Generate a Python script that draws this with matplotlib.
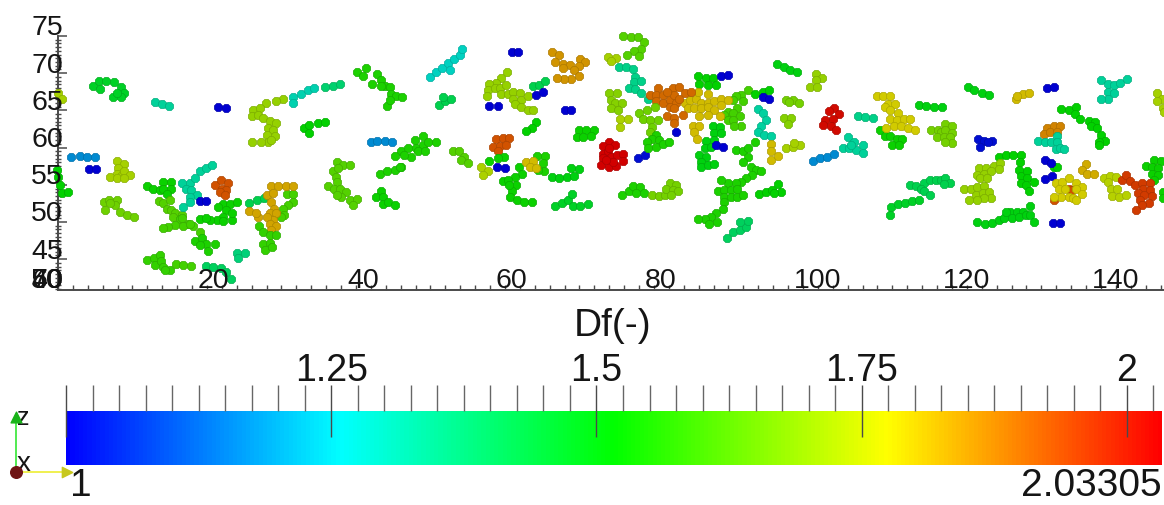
"""
Aggregate positions (x vs z) coloured by fractal dimension, with rainbow scalar bar.
"""

import numpy as np
import matplotlib
matplotlib.use("Agg")
import matplotlib.pyplot as plt
from matplotlib.cm import ScalarMappable
from matplotlib.colors import LinearSegmentedColormap, Normalize

plt.rcParams["font.family"] = ["Liberation Sans", "DejaVu Sans"]

# one entry per aggregate: fractal dimension and the sphere centres
cluster_df = []
cluster_x = []
cluster_y = []


def add(df, xs, ys):
    if len(xs) != len(ys):
        print("length mismatch", df, xs[:2], len(xs), len(ys))
    cluster_df.append(df)
    cluster_x.append(xs)
    cluster_y.append(ys)


add(1.72, [0.0, 0.5], [67.3, 66.5])
add(1.17, [1.8, 2.9, 3.9, 5.0], [58.8, 58.9, 58.8, 58.7])
add(1.0, [4.1, 5.1], [57.1, 57.1])
add(1.52, [0, 0.3, 0.5, 1.4, -0.1], [56.1, 55, 53.9, 54.1, 57.0])
add(1.47, [4.7, 5.5, 6.5, 7.5, 8.4, 8.9, 8.4, 7.4, 7.9, 5.6], [68.3, 68.9, 68.9, 68.8, 68.1, 67.3, 66.8, 66.8, 67.4, 67.9])
add(1.33, [13, 14, 14.9], [66.1, 65.9, 65.6])
add(1.0, [21.5, 22.6], [65.5, 65.3])
add(1.72, [7.9, 8.8, 8, 7.9, 8.5, 7, 8.8, 9.6, 7.9, 8.8], [58.2, 57.8, 57.2, 56.5, 56.2, 56, 56.8, 56.3, 55.9, 55.9])
add(1.65, [6.2, 6.8, 7.9, 7.6, 7, 6.3, 8.3, 9.2, 10.2], [52.7, 53, 53, 52.3, 52.5, 51.6, 51.3, 51, 50.7])
add(1.53, [11.9, 12.8, 13.7, 14.1, 15.2, 14.1, 15.2, 14.6], [54.9, 54.5, 54.3, 55.4, 55.4, 54.5, 54.4, 53.8])
add(1.62, [13.6, 14.1, 15.1, 14.6, 15.2, 15.7, 16.6, 15.5], [52.8, 52.5, 53, 51.8, 51.6, 51.2, 51, 50.7])
add(1.6, [16.4, 17.5, 16.8, 15.7, 14.8, 14.1, 16.6, 18.1, 19, 17.7], [50.4, 49.8, 49.4, 49.6, 49.3, 49.2, 50.5, 49.4, 48.6, 49.7])
add(1.55, [18.4, 19.3, 19.9, 19, 20.2, 21.1], [47.5, 47.8, 47.1, 46.9, 46.1, 47.1])
add(1.58, [11.9, 12.9, 13.7, 13, 13.8, 14.1, 15, 14.3], [44.9, 45.1, 45.6, 44.2, 44.7, 44, 43.6, 43.5])
add(1.6, [15.9, 16.8, 17.8], [44.4, 44.2, 44.1])
add(1.4, [19.9, 20.8, 21.9, 22.6, 23.2], [44.1, 44, 43.8, 43.3, 42.3])
add(1.37, [24, 25.1, 24.2], [45.9, 45.9, 45.1])
add(1.33, [16.6, 17.7, 17.2, 17.9, 18.6, 17.7, 17.7, 16.8, 19, 19.8, 20.7, 18.4],
    [55.3, 55.3, 54.4, 54.3, 53.6, 53.4, 52.7, 52, 56.8, 57.3, 57.6, 55.9])
add(1.0, [19, 19.8], [52.8, 52.8])
add(1.93, [21.1, 21.9, 22.8, 22, 22.6, 21.7, 22.4], [55, 55.6, 55.3, 54.5, 54.3, 54.1, 53.6])
add(1.53, [22.2, 23.1, 24, 22.6, 21.5, 22.2, 21.3, 20.4, 19, 19.9, 23.3, 22.1, 23.3],
    [52.4, 52.4, 52.7, 51.6, 52, 50.7, 50.3, 50.3, 50.4, 50.5, 50.3, 50.1, 51.2])
add(1.42, [25.7, 26.7, 27.7], [52.5, 53, 53.2])
add(1.6, [30.7, 31.6, 31.6, 30.9, 30.2, 30.4, 30], [53.8, 53.8, 52.7, 52.3, 51.8, 51, 50.7])
add(1.83, [28.6, 29.5, 30.6, 31.6, 28, 28.9, 28.6, 29, 28.4, 29.3, 28.9, 28, 26.9, 25.7, 26.6, 28.4, 29.3, 28.6],
    [54.8, 54.8, 54.8, 54.9, 53.6, 53.9, 52.7, 51.8, 51.2, 51.2, 50.3, 50.7, 50.7, 51.5, 51.2, 49.7, 49.4, 48.9])
add(1.58, [27, 27.5, 28.4, 29.3, 27.5, 28.5, 27.8, 28.7], [49.5, 48.7, 48.3, 48.3, 47.1, 47.2, 46.3, 46.6])
add(1.7, [30.2, 29.2, 27.9, 26.2, 27.1, 26, 26.9, 27.5, 28.4, 29.3, 28.2, 28.9, 28, 29.1, 28.2, 27.3, 26, 28.6],
    [66.5, 66.3, 66, 65, 65.3, 64.2, 64.4, 64, 63.6, 63.3, 62.6, 62.4, 61.7, 61.5, 60.8, 60.8, 60.7, 61])
add(1.3, [31.6, 31.5, 32.6, 33.6, 34.4], [66.8, 66, 67.2, 67.7, 68])
add(1.38, [35.9, 36.9, 37.9], [68.1, 68.3, 68.5])
add(1.52, [33, 33.7, 34.9, 35.9, 33.7], [62.7, 63, 63.3, 63.4, 62])
add(1.17, [42, 42.8, 43.9, 44.9], [60.7, 60.9, 60.9, 60.7])
add(1.62, [37.5, 38.3, 39.2, 36.9, 37.6, 37.3, 36.3, 37.4, 37.1, 37.8, 38.7, 38, 39.2, 40.1, 39.6, 37.4],
    [58, 57.7, 57.7, 56.8, 57.2, 56.1, 54.8, 55.4, 54.5, 54.4, 54, 53.4, 53, 53.1, 52.3, 53.6])
add(1.53, [43.3, 42.7, 43.6, 43.6, 44.3, 45.3], [54.2, 53.3, 53.3, 52.4, 52.7, 52.3])
add(1.55, [40.1, 41.4, 40.9, 42.8, 42.2, 43.4, 43.9, 44.5, 44.7, 45.4, 44.1, 44.5, 43.4, 46.2],
    [70.2, 70.7, 69.6, 69.9, 68.6, 69.1, 68.3, 68.2, 67.2, 67, 65.6, 66.4, 68.3, 66.8])
add(1.55, [46.1, 47, 47.9, 49, 48.1, 49, 49.7, 50.8, 47.4, 46.1, 46.5, 48.3, 49.2, 45.2, 43.2, 44.1, 45.2, 45.9],
    [59.5, 59.9, 61, 61.5, 59.9, 60.3, 60.8, 60.7, 58.8, 57.4, 59, 59.5, 59.5, 58.9, 56.5, 56.8, 57, 57.4])
add(1.28, [49.9, 50.8, 51.6, 52.3, 52.6, 53.1, 53.9, 54.2], [69.5, 70.2, 70.7, 71.4, 70.4, 71.9, 72.4, 73.3])
add(1.42, [51.1, 51.9, 52.8, 51.7], [65.7, 66.2, 66.5, 66.8])
add(1.0, [61, 61.8], [72.8, 72.9])
add(1.7, [60.3, 59.5, 58.8, 57.9, 57.7, 57.6, 58.6, 59.3, 60.2, 59.5, 60.4, 61.1, 62, 61.1, 62.2, 63.1, 61.3, 62.2, 63.1, 63.8],
    [70.1, 69.3, 68.7, 68.5, 67.7, 66.9, 68, 68, 68.4, 67.2, 67.2, 67.5, 67.4, 66.6, 66.4, 67, 65.9, 65.4, 65.1, 65])
add(1.0, [57.9, 59], [65.6, 65.6])
add(1.42, [63.7, 64.5, 65.4], [68.3, 68.4, 68.9])
add(1.0, [64.2, 65.1], [67.1, 67.5])
add(1.0, [68, 68.9], [65, 65])
add(1.85, [66.3, 67.2, 66.7, 67.8, 68.7, 70.1, 70.8, 70, 69.3, 67.8, 70, 68.9, 67.9, 67],
    [72.8, 72.5, 71.5, 71.2, 71.1, 71.9, 71.5, 71, 70.4, 70.7, 69.6, 69.2, 69.2, 69.3])
add(1.52, [64.1, 63.6, 62.8], [63.5, 62.6, 62.2])
add(1.93, [58.8, 59.7, 60.6, 58.4, 59.3, 60.2, 59.1], [61.2, 61.3, 61.3, 60.1, 60.2, 60.3, 59.5])
add(1.53, [59.9, 59.1, 57.9], [58.8, 58.6, 58.2])
add(1.0, [58.9, 60], [57.4, 57.3])
add(1.62, [53, 53.8, 54.5, 54.1, 55.1], [59.5, 59.5, 58.8, 58.3, 57.9])
add(1.73, [56.8, 57.7, 57.0], [57.4, 56.9, 56.3])
add(1.53, [61.9, 62.3, 61.3, 59.8, 60.4, 61.5, 61, 60.7, 61.6, 62.6, 63.6, 60.6],
    [57.4, 56.5, 56.1, 55.5, 55.6, 55, 54.2, 53.3, 53, 52.7, 52.7, 55])
add(1.55, [64.3, 65.4, 65.1, 65.2, 64.4], [58.9, 58.9, 57.9, 56.9, 57])
add(1.8, [62.8, 63.7, 63.3, 64.2], [58.1, 58.2, 57.4, 57.2])
add(1.5, [66.3, 67.3, 68.3, 68.9, 69.9, 69.2], [56, 55.9, 56.1, 57.2, 57.1, 56.2])
add(1.47, [66.7, 67.7, 68.4, 69, 69.1, 70.1, 71.1], [52.2, 52.5, 52.9, 53.8, 52.1, 52.2, 52.4])
add(1.53, [70, 70.9, 72, 69.6, 70.5, 71.6], [62.3, 62.4, 62.3, 61.4, 61.4, 61.5])
add(2.03, [73.9, 73.2, 74.7, 73.1, 73.8, 73.2, 74.2, 75.1, 75.9, 75.8, 72.9, 73.9, 74.9, 74.5, 73.6, 74],
    [60.7, 60.2, 60.3, 59.2, 59.5, 58.6, 58.8, 59, 59.2, 58.2, 57.7, 57.4, 57.5, 58.1, 58.3, 59.9])
add(1.02, [77.9, 78.8], [58.6, 59])
add(1.72, [73.8, 74.9, 74.2], [72.2, 72, 71.7])
add(1.62, [75.9, 76.9, 77.9, 78.6, 78.3, 77.3, 76.4, 78], [75, 74.9, 74.8, 74.2, 73.3, 73, 72.4, 72.3])
add(1.35, [75.3, 76.3, 77.2, 77.5, 77.3, 78.3, 76.6, 77.4, 78.3, 79.2], [70.9, 70.8, 70.6, 69.5, 68.8, 68.9, 68, 67.9, 67.3, 66.6])
add(1.68, [74, 75, 74.2, 74.7, 75.7, 74.2, 75.2], [67.4, 67.4, 66.4, 66, 66, 65.3, 65])
add(1.73, [75.4, 76.5, 75.4], [63.8, 63.8, 62.8])
add(1.52, [85.9, 87, 87.9, 86.1, 87.2, 88.3], [69.6, 69.4, 69.4, 68.6, 68.4, 68.4])
add(1.0, [89, 90], [69.6, 69.7])
add(1.6, [92.6, 91.7, 91, 90.6, 91.9, 91.2, 89.9, 90.6, 89.4, 91.5, 89.9, 90.6, 91.7, 90.8],
    [67.7, 67.1, 66.9, 66.4, 66.2, 65.3, 64.8, 64.6, 64.4, 64.2, 63.7, 63.7, 62.9, 62.9])
add(1.8, [84.1, 84.8, 85.6, 85.9, 87.2, 86.3, 87.2, 88.1, 89, 89.9, 84.5, 85.4, 86.3, 87.2, 88.1, 89, 86.1, 87.2, 88.8, 85.2, 86.1, 85.4, 85.8],
    [66, 66.4, 66.6, 67.5, 67.2, 66, 66, 66.2, 66.6, 66.4, 65.3, 65.3, 65.3, 65.4, 65.1, 65.7, 64.2, 64.4, 64.2, 62.9, 62.9, 62.1, 61.2])
add(1.9, [79.5, 80.5, 80.3, 81.2, 80.3, 81.2, 82.1, 82.5, 83.4, 84.1, 85, 82.7, 81.8, 83, 82.1, 82.7, 81.8, 82.7, 83.9, 82.7, 83.4],
    [67.1, 68, 67.1, 67.1, 66.2, 66, 66.4, 68, 68.2, 67.3, 67.5, 67.1, 67.5, 66, 65.5, 65.3, 64.2, 64, 64.4, 63.3, 66.6])
add(1.65, [78, 79, 80.1, 78.5, 79.4, 80.5, 79.8, 79.4], [64.6, 65.1, 65.4, 63.9, 63.7, 63.7, 62.8, 62.1])
add(1.55, [80.3, 79.8, 79, 80.7, 79.2, 80.3, 81.2, 82], [61.7, 61.2, 60.8, 61, 59.9, 60.1, 60.5, 60.8])
add(1.0, [82.9], [62.1])
add(1.5, [87.9, 88.8, 88.1, 89, 87, 88.1, 86.8, 87.7, 86.1, 87, 86.3, 86.3, 87.2, 88.1],
    [62.9, 62.8, 61.9, 61.9, 60.9, 61, 59.9, 60.1, 59, 58.8, 58.1, 57.4, 57.6, 57.8])
add(1.0, [88.3, 89.3], [60.3, 60.1])
add(1.55, [91, 91.9, 92.6, 93.5, 92.6, 91.9, 93, 93.7, 94.4, 93.2, 92.4, 91.7, 91, 89.9, 89, 88.6, 89.4, 90.3, 91.2, 89.4, 90.3, 91.2, 91.9, 89.4, 89.2, 88.3, 87.7, 86.8, 85.9, 87.4, 88.4],
    [59.7, 59.5, 59.9, 60.7, 58.8, 58, 57.4, 57, 56.8, 56.3, 55.9, 55.4, 55.2, 55.2, 55.6, 54.2, 54.3, 54.3, 54.5, 53.4, 53.4, 53.4, 53.6, 52.7, 51.8, 51.2, 50.7, 50.4, 50.4, 49.8, 50])
add(1.55, [75.7, 76.6, 77.2, 78.1, 77.6, 78.7], [53.6, 54.2, 54.8, 54.7, 53.9, 53.9])
add(1.66, [79.8, 80.7, 81.5, 82.1, 83, 81.6, 82.5, 83.2, 82.3], [53.6, 53.5, 53.6, 55.2, 55, 54.5, 54.3, 54.2, 53.6])
add(1.52, [94.1, 95.1, 95.8, 96.6, 97, 96.1], [53.8, 54.1, 54.3, 55.1, 54, 53.9])
add(1.4, [89.8, 90.6, 91.5, 92.4, 91.6, 92.6], [47.9, 48.6, 48.9, 49.3, 50, 50.2])
add(1.52, [93.6, 94.6, 95.5], [67.2, 67.5, 67.8])
add(1.0, [94.6, 95.4], [66.8, 66.5])
add(1.32, [93.9, 94.7, 95, 94.4, 93.9, 94.8, 95.7], [65.2, 64.7, 63.7, 62.9, 62.1, 61.7, 61.5])
add(1.8, [95.7, 95.7, 95.7, 96.6], [60.5, 59.5, 58.3, 58.9])
add(1.5, [96.5, 97.4, 98.3, 99.2], [71.2, 70.8, 70.4, 70.1])
add(1.7, [101.7, 102.5, 101.8, 101, 101.9], [69.9, 69.4, 69.1, 68.2, 68.2])
add(1.66, [97.7, 98.6, 99.5, 98.1], [66.4, 66.4, 66, 66.1])
add(1.68, [97.5, 98.4, 98], [64, 64, 63.2])
add(1.72, [97.7, 98.6, 99.6, 98.8], [59.9, 60.1, 60.4, 60.6])
add(2.02, [104.2, 103.5, 104.8, 104, 103, 102.7, 103.7, 104.4], [65.3, 64.9, 64.5, 63.9, 63.7, 63, 62.9, 62.4])
add(1.35, [107.4, 108.3, 109.4], [64.2, 64.1, 64])
add(1.33, [106.1, 106.8, 105.4, 106.2, 107.1, 108, 108.1, 106.5], [61.4, 60.8, 59.9, 59.9, 59.7, 60.4, 59.3, 60.4])
add(1.17, [101.3, 102.3, 103.2, 104.1], [58.2, 58.6, 58.8, 59.2])
add(1.53, [110.3, 111, 111.7, 112.6, 113.3, 112, 112.9], [62.4, 61.6, 61.5, 61.2, 61.2, 60.4, 60.4])
add(1.78, [109.9, 110.8, 111.7, 111.4, 112.3, 111, 111.7, 112.8, 111.7, 112.6, 113.5, 114.3, 111.2, 112.2, 113.2, 114.1, 115],
    [67, 67, 67, 65.9, 65.9, 65.5, 65, 64.7, 63.9, 63.7, 63.8, 63.8, 62.7, 62.9, 62.9, 62.7, 62.4])
add(1.5, [115.6, 116.5, 117.6, 118.6], [65.7, 65.6, 65.5, 65.4])
add(1.66, [117.2, 118.1, 119.1, 120, 118.5, 119.1, 120, 118, 118.9, 119.8, 120, 119.1],
    [62.4, 62.4, 63.2, 62.9, 62.1, 62.4, 61.9, 61.4, 61.4, 61.4, 60.6, 60.8])
add(1.02, [123.5, 124.3, 125.4, 123.8, 124.8], [61.1, 60.9, 60.9, 60.1, 60.8])
add(1.5, [122.1, 123, 124, 125], [68.1, 67.7, 67.4, 67.1])
add(1.8, [128.6, 129.5, 130.4, 128.7], [66.6, 67.2, 67.4, 66.9])
add(1.0, [132.8, 133.7], [68, 68.2])
add(1.33, [140, 140.9, 141.7, 142.5, 143.5, 141, 141.7, 140.9, 140], [69.1, 68.6, 68.4, 68.7, 69.2, 67.5, 67.4, 66.6, 66.5])
add(1.52, [134.6, 135.7, 136.6, 136.5, 137.2, 138.4, 139.2, 138.6, 139.5, 140, 140.6, 139.7, 139.8],
    [65.2, 65.1, 65.4, 64.5, 63.8, 63.6, 63.5, 62.9, 62.7, 61.7, 60.9, 60.8, 60.4])
add(1.87, [132.7, 133.7, 134.5, 132.3, 133.2, 134.1], [62.7, 62.9, 62.9, 61.8, 62.1, 62.1])
add(1.33, [131.6, 132.5, 133.3, 134.1, 134.1, 133.9, 134.5, 135], [60.9, 60.8, 60.7, 61.6, 60.8, 59.8, 59.9, 59.8])
add(1.52, [133.7, 134.1], [57.4, 57.4])
add(1.0, [132.5, 133.3], [58.3, 57.9])
add(1.0, [132.5, 133.4], [55.8, 56.2])
add(1.93, [135.7, 136.1, 133.7], [54.5, 54.3, 52.9])
add(1.78, [133.9, 134.8, 135.7, 136.6, 134.3, 135.2, 137.5, 134.6, 136.6, 135.7, 133.7, 137.5, 136.3, 136.6],
    [55.2, 55.4, 55.9, 55.3, 54.5, 54.5, 54.7, 53.4, 54.4, 53.4, 53.4, 53.7, 53.2, 53])
add(1.82, [138, 137.5, 138.1, 139.1], [57.8, 57, 56.5, 56.4])
add(1.74, [140.4, 141.2, 142, 141.0, 141.4, 142.2, 141.5, 142.4, 143.4], [55.9, 56.2, 56.1, 55.4, 54.5, 54.5, 53.5, 53.4, 53.6])
add(1.53, [146, 147.1, 148, 146.9, 147.7, 146.9, 147.7, 147.1, 148.3, 148.3], [57.5, 58.4, 58.2, 57.4, 57.2, 56.5, 56.3, 55.7, 54.1, 53.2])
add(1.96, [142.8, 143.3, 143.9, 144.6, 145.5, 146.6, 145.7, 146.6, 145, 145.8, 146.8, 145.3, 146.4, 145.5, 144.7],
    [55.6, 56.3, 55.5, 55, 55.2, 55.2, 54.5, 54.3, 53.9, 53.6, 53.5, 53, 52.5, 52.3, 51.6])
add(1.72, [147.5, 148.2, 147.5, 148.3, 148.4], [67.3, 66.6, 66.2, 65.3, 64.8])
add(1.5, [123.4, 124.4, 125.4, 126.3, 127, 127.8, 127.2, 128.7, 129.6, 130.5, 128.1, 129, 129.9, 130.5, 131],
    [50, 49.8, 49.9, 50.3, 50.5, 51.4, 51.4, 51.4, 51.4, 52.1, 50.5, 50.7, 50.9, 50.9, 50])
add(1.0, [133.5, 134.5], [49.9, 49.9])
add(1.52, [126.3, 127.3, 128.2, 129.2, 129.1, 129, 129.2, 130.1, 130.1, 129.3, 130, 131, 130.4],
    [58.8, 59, 59, 59, 58, 57, 56.2, 56.8, 55.9, 55.2, 55, 55.4, 54.2])
add(1.7, [123.6, 124.5, 125.6, 126.5, 123.4, 124.3, 125.2, 126.3, 123.8, 124.7, 121.6, 122.5, 123.4, 124.3, 122.3, 123.2, 124.1, 125, 125.2, 124.3, 123.4],
    [57.2, 57.3, 57.5, 57.9, 56.3, 56.5, 56.8, 57.1, 55.9, 55.9, 54.5, 54.5, 54.7, 54.8, 53, 53.6, 53.9, 54.1, 53.2, 53.2, 53])
add(1.42, [114.4, 115.2, 116.2, 115.8, 117, 117.8, 116.2, 117.1, 118.5, 119.1, 119.8, 118.9],
    [55, 54.8, 55.2, 54.5, 55.6, 55.7, 54.2, 53.6, 55.7, 55.9, 55.3, 55.1])
add(1.47, [111.7, 111.8, 112.7, 113.7, 114.7, 115.6], [51, 52, 52.4, 52.6, 52.8, 53])

x_ticks = [20, 40, 60, 80, 100, 120, 140]
y_ticks = [45, 50, 55, 60, 65, 70, 75]
collapsed_labels = ["40", "50", "60", "70"]   # labels piled on top of each other at the corner
bar_ticks = [1, 1.25, 1.5, 1.75, 2]
bar_labels = ["", "1.25", "1.5", "1.75", "2"]
df_min = 1
df_max = 2.03305

W, H = 1164, 505
AXIS = "#4a4a4a"
TEXT = "#151515"

rainbow = LinearSegmentedColormap.from_list("rainbow_lut", ["#0000ff", "#00ffff", "#00ff00", "#ffff00", "#ff0000"])
norm = Normalize(df_min, df_max)

fig = plt.figure(figsize=(W / 100, H / 100), dpi=100)

# scatter panel
ax = fig.add_axes([58 / W, (H - 289.5) / H, (W - 58) / W, 253.5 / H])
ax.set_xlim(0, 148.46)
ax.set_ylim(40.93, 75)
ax.patch.set_alpha(0)
for side in ["top", "right"]:
    ax.spines[side].set_visible(False)
for side in ["left", "bottom"]:
    ax.spines[side].set_color(AXIS)
    ax.spines[side].set_linewidth(1.4)
ax.set_xticks(x_ticks)
ax.set_xticks(np.arange(0, 149, 2), minor=True)
ax.set_yticks(y_ticks)
ax.set_yticks(np.arange(41, 75.1, 0.5), minor=True)
ax.set_xticklabels([])
ax.set_yticklabels([])
ax.tick_params(axis="x", which="both", direction="in", length=3.6, width=1, color=AXIS)
ax.tick_params(axis="y", which="major", direction="in", length=6.5, width=1.1, color=AXIS)
ax.tick_params(axis="y", which="minor", direction="inout", length=4.5, width=1, color=AXIS)

for df, xs, ys in zip(cluster_df, cluster_x, cluster_y):
    rgb = np.array(rainbow(norm(df))[:3])
    ax.scatter(xs, ys, s=40, marker="8", color=rgb * 0.82, edgecolors=rgb * 0.68,
               linewidths=0.5, clip_on=False, zorder=3)

for t in x_ticks:
    ax.annotate(str(t), (t, 40.93), xytext=(-6.5, -3.5), textcoords="offset points",
                ha="left", va="bottom", fontsize=20.5, color=TEXT, zorder=5)
for t in y_ticks:
    ax.annotate(str(t), (0, t), xytext=(3.5, 5.5), textcoords="offset points",
                ha="right", va="center", fontsize=20.5, color=TEXT, zorder=5)
for lab in collapsed_labels:
    ax.annotate(lab, (0, 40.93), xytext=(3.5, -3.5), textcoords="offset points",
                ha="right", va="bottom", fontsize=20.5, color=TEXT, zorder=5)

# scalar bar
cax = fig.add_axes([66 / W, (H - 465) / H, 1096 / W, 54 / H])
bar = fig.colorbar(ScalarMappable(norm=norm, cmap=rainbow), cax=cax, orientation="horizontal")
bar.outline.set_visible(False)
cax.xaxis.set_ticks_position("top")
cax.xaxis.set_label_position("top")
cax.set_xticks(bar_ticks)
cax.set_xticklabels(bar_labels)
cax.set_xticks(np.arange(1, 2.03, 0.025), minor=True)
cax.tick_params(axis="x", which="major", direction="inout", length=37.4, width=1, color=AXIS,
                labelsize=27, labelcolor=TEXT, pad=-3)
cax.tick_params(axis="x", which="minor", direction="out", length=18.7, width=1, color="#666666")

# overlay in picture coordinates: titles, range labels and the orientation triad
over = fig.add_axes([0, 0, 1, 1])
over.set_xlim(0, W)
over.set_ylim(H, 0)
over.axis("off")
over.patch.set_alpha(0)
over.text(613, 326, "Df(-)", ha="center", va="center", fontsize=28, color=TEXT)
over.text(70, 504, "1", ha="left", va="bottom", fontsize=28, color=TEXT)
over.text(1162, 504, "2.03305", ha="right", va="bottom", fontsize=28, color=TEXT)
over.plot([15.5, 15.5], [471, 420], color="#33e633", lw=1.2)
over.plot([15.5, 68], [471.5, 471.5], color="#f0f050", lw=1.4)
over.scatter([15.5], [417], marker="^", s=60, color="#19b319", zorder=4)
over.scatter([67], [471.5], marker=">", s=55, color="#c8c81e", zorder=4)
over.scatter([15.5], [471.5], marker="o", s=70, color="#6e1414", zorder=5)
over.text(23, 418, "z", ha="center", va="center", fontsize=18, color=TEXT)
over.text(24, 464, "x", ha="center", va="center", fontsize=20, color=TEXT)

fig.savefig("out.png", dpi=100)
